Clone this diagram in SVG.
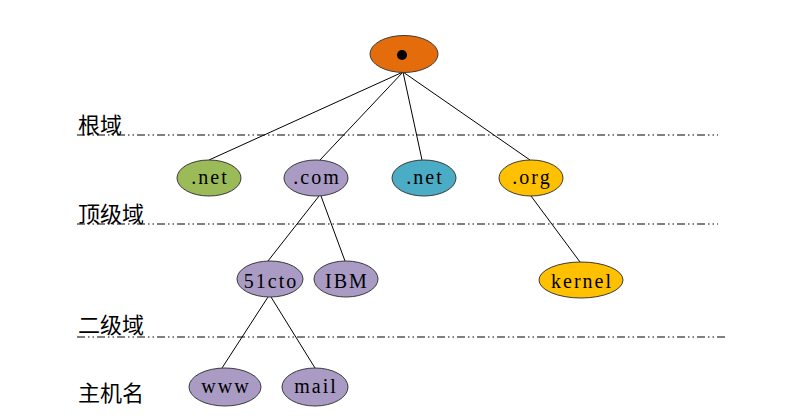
<svg xmlns="http://www.w3.org/2000/svg" width="796" height="419" viewBox="0 0 796 419">
<style>
.bg{fill:#fff}
.sep{stroke:#808080;stroke-width:2;fill:none;stroke-dasharray:8 3 1.5 3 1.5 3}
.lbl{font-family:"Noto Sans CJK SC","Noto Sans CJK JP",sans-serif;font-size:22px;fill:#000}
.n{stroke:#3a3a3a;stroke-width:1}
.t{font-family:"Liberation Serif",serif;font-size:20px;letter-spacing:2px;fill:#000;text-anchor:middle;dominant-baseline:central}
.g{fill:#9BBB59}.p{fill:#A99BC4}.b{fill:#4BACC6}.y{fill:#FFC000}.o{fill:#E46C0A}
.c line{stroke:#000;stroke-width:1}
</style>
<rect class="bg" width="796" height="419"/>
<g id="separators">
<line class="sep" x1="77" y1="135" x2="718" y2="135"/>
<line class="sep" x1="77" y1="224" x2="718" y2="224"/>
<line class="sep" x1="77" y1="337" x2="725" y2="337"/>
</g>
<g id="labels">
<text class="lbl" x="78" y="133">根域</text>
<text class="lbl" x="78" y="222">顶级域</text>
<text class="lbl" x="78" y="333">二级域</text>
<text class="lbl" x="78" y="401">主机名</text>
</g>
<g class="c" id="connectors">
<line x1="403" y1="72" x2="209" y2="160"/>
<line x1="403" y1="72" x2="320" y2="160"/>
<line x1="403" y1="72" x2="422" y2="160"/>
<line x1="403" y1="72" x2="530" y2="160"/>
<line x1="319" y1="196" x2="268" y2="261"/>
<line x1="321" y1="196" x2="345" y2="261"/>
<line x1="531" y1="196" x2="580" y2="262"/>
<line x1="268" y1="297" x2="222" y2="368"/>
<line x1="271" y1="297" x2="315" y2="368"/>
</g>
<g id="root"><ellipse class="n o" cx="404" cy="54" rx="34" ry="18.5"/><circle cx="402" cy="55" r="5" fill="#000"/></g>
<g id="net1"><ellipse class="n g" cx="209" cy="178" rx="32" ry="18"/><text class="t" x="210" y="177">.net</text></g>
<g id="com"><ellipse class="n p" cx="316" cy="178" rx="32" ry="18"/><text class="t" x="317" y="177">.com</text></g>
<g id="net2"><ellipse class="n b" cx="424" cy="178" rx="32" ry="18"/><text class="t" x="425" y="177">.net</text></g>
<g id="org"><ellipse class="n y" cx="531" cy="178" rx="32" ry="18"/><text class="t" x="532" y="177">.org</text></g>
<g id="c51cto"><ellipse class="n p" cx="270" cy="279" rx="33" ry="18"/><text class="t" x="271" y="281">51cto</text></g>
<g id="ibm"><ellipse class="n p" cx="346" cy="279" rx="32" ry="18"/><text class="t" x="347" y="281">IBM</text></g>
<g id="kernel"><ellipse class="n y" cx="581" cy="280" rx="42" ry="18"/><text class="t" x="582" y="281">kernel</text></g>
<g id="www"><ellipse class="n p" cx="225" cy="387" rx="36" ry="19"/><text class="t" x="226" y="386">www</text></g>
<g id="mail"><ellipse class="n p" cx="315" cy="387" rx="33" ry="19"/><text class="t" x="316" y="386">mail</text></g>
</svg>
